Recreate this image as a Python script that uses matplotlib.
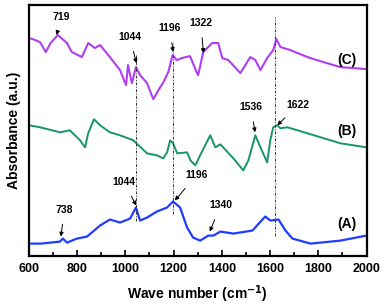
import matplotlib
matplotlib.use("Agg")
import matplotlib.pyplot as plt
from matplotlib.ticker import MultipleLocator

plt.rcParams['font.family'] = ['Liberation Sans', 'DejaVu Sans']
plt.rcParams['font.weight'] = 'bold'

# spectra (arbitrary absorbance units, higher = up)
wn_c = [600, 615, 646, 670, 690, 720, 758, 778, 820, 846, 874, 895, 936, 978,
        1003, 1011, 1027, 1044, 1061, 1090, 1116, 1137, 1158, 1178, 1196, 1213,
        1234, 1268, 1297, 1302, 1323, 1360, 1385, 1402, 1427, 1477, 1518, 1539,
        1560, 1588, 1613, 1626, 1643, 1684, 1755, 1821, 1892, 2000]
ab_c = [217, 216, 213, 203, 212, 220, 212, 203, 198, 212, 207, 210, 198, 185,
        170, 190, 172, 188, 180, 172, 156, 165, 173, 183, 200, 195,
        197, 199, 182, 180, 203, 212, 212, 197, 195, 182, 198, 195,
        185, 197, 205, 216, 208, 205, 198, 193, 188, 186]

wn_b = [600, 646, 729, 770, 812, 833, 846, 870, 895, 936, 978, 1033, 1090,
        1131, 1157, 1173, 1186, 1198, 1215, 1256, 1270, 1290, 1310, 1352, 1373,
        1394, 1448, 1489, 1510, 1539, 1560, 1588, 1601, 1613, 1630, 1643, 1672,
        1755, 1892, 2000]
ab_b = [130, 128, 123, 125, 115, 108, 122, 136, 130, 123, 120, 115, 102,
        100, 97, 103, 115, 112, 102, 103, 95, 90, 100, 120, 108,
        111, 97, 85, 95, 120, 108, 93, 115, 128, 130, 127, 128,
        122, 112, 108]

wn_a = [600, 650, 729, 741, 758, 799, 841, 895, 936, 978, 1020, 1044, 1061,
        1090, 1131, 1173, 1198, 1227, 1256, 1281, 1310, 1344, 1365, 1394, 1448,
        1527, 1580, 1601, 1635, 1664, 1693, 1768, 1892, 2000]
ab_a = [12, 12, 14, 17, 13, 17, 19, 30, 36, 33, 37, 48, 35,
        38, 44, 48, 54, 48, 28, 18, 15, 20, 20, 24, 22,
        25, 39, 35, 36, 25, 17, 12, 15, 20]

# marked bands: (text, text x, text y, arrow tip x, arrow tip y)
notes_c = [("719", 735, 238, 715, 220), ("1044", 1018, 218, 1046, 192),
           ("1196", 1185, 227, 1198, 203), ("1322", 1313, 232, 1324, 202)]
notes_b = [("1536", 1520, 148, 1538, 123), ("1622", 1715, 150, 1630, 130)]
notes_a = [("738", 747, 46, 733, 19), ("1044", 995, 73, 1045, 50),
           ("1196", 1295, 80, 1205, 55), ("1340", 1395, 50, 1350, 24)]
guide_lines = [(1044, 35, 200), (1196, 42, 212), (1622, 20, 238)]
series_labels = [("(C)", 195), ("(B)", 124), ("(A)", 32)]

fig, ax = plt.subplots(figsize=(3.85, 3.08), dpi=100)
fig.subplots_adjust(left=0.075, right=0.952, top=0.984, bottom=0.17)

ax.plot(wn_c, ab_c, color='#b03ef0', lw=1.5)
ax.plot(wn_b, ab_b, color='#16956a', lw=1.4)
ax.plot(wn_a, ab_a, color='#1f3cff', lw=1.6)

for x, y0, y1 in guide_lines:
    ax.plot([x, x], [y0, y1], color='#333333', lw=0.7, ls=(0, (3, 1.5, 1, 1.5)))

for txt, tx, ty, px, py in notes_c + notes_b + notes_a:
    ax.annotate(txt, xy=(px, py), xytext=(tx, ty), ha='center', va='center',
                fontsize=7.5, fontweight='bold',
                arrowprops=dict(arrowstyle='-|>', color='black', lw=0.7,
                                mutation_scale=6, shrinkA=5, shrinkB=0))

for txt, y in series_labels:
    ax.text(1920, y, txt, ha='center', va='center', fontsize=10, fontweight='bold')

ax.set_xlim(600, 2000)
ax.set_ylim(0, 250)
ax.xaxis.set_major_locator(MultipleLocator(200))
ax.xaxis.set_minor_locator(MultipleLocator(100))
ax.set_yticks([])
ax.tick_params(axis='x', which='major', direction='in', length=4, width=1.2,
               labelsize=9, pad=5)
ax.tick_params(axis='x', which='minor', direction='in', length=3, width=1.2)
for lab in ax.get_xticklabels():
    lab.set_fontweight('bold')
for sp in ax.spines.values():
    sp.set_linewidth(1.6)

ax.set_xlabel('Wave number (cm$^{\\mathbf{-1}}$)', fontsize=10, fontweight='bold', labelpad=6)
ax.set_ylabel('Absorbance (a.u.)', fontsize=10, fontweight='bold', labelpad=6)

fig.savefig('out.png', dpi=100)
